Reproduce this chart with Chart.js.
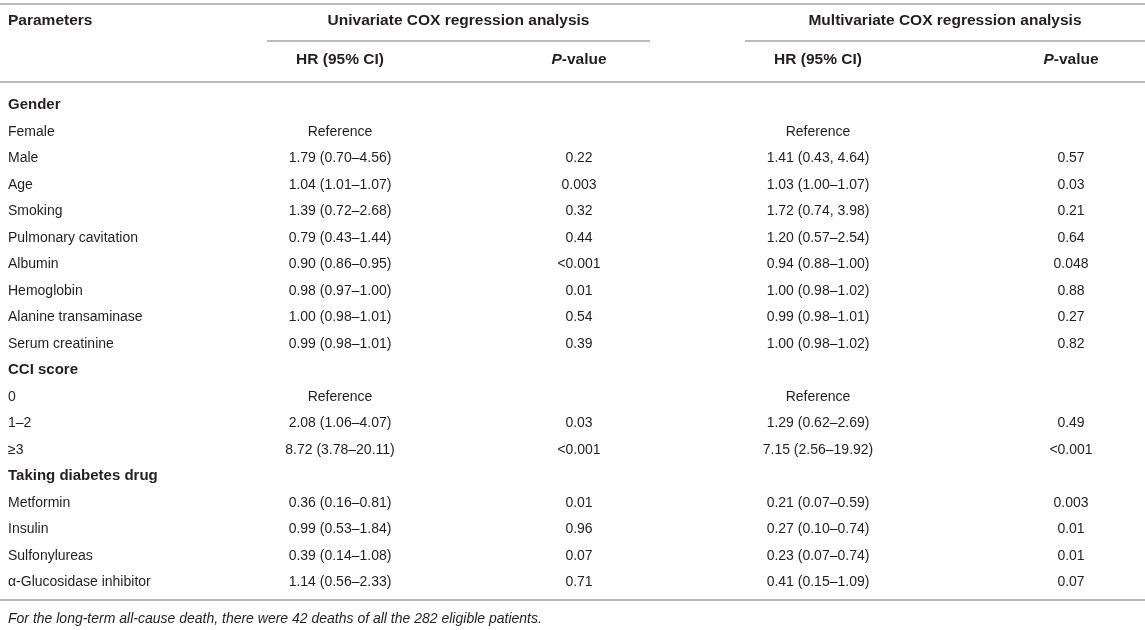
<!DOCTYPE html>
<html>
<head>
<meta charset="utf-8">
<script src="https://cdn.jsdelivr.net/npm/chart.js@4"></script>
<style>
    html, body { margin: 0; background: #fff; }
    #wrap { width: 1145px; height: 630px; }
</style>
</head>
<body>
<div id="wrap"><canvas id="Table1"></canvas></div>
<script>

const rowLabels = ['Gender', 'Female', 'Male', 'Age', 'Smoking', 'Pulmonary cavitation', 'Albumin',
    'Hemoglobin', 'Alanine transaminase', 'Serum creatinine', 'CCI score', '0', '1–2', '≥3',
    'Taking diabetes drug', 'Metformin', 'Insulin', 'Sulfonylureas', 'α-Glucosidase inhibitor'];

const groupRows = ['Gender', 'CCI score', 'Taking diabetes drug'];

const uniHR = ['', 'Reference', '1.79 (0.70–4.56)', '1.04 (1.01–1.07)', '1.39 (0.72–2.68)', '0.79 (0.43–1.44)',
    '0.90 (0.86–0.95)', '0.98 (0.97–1.00)', '1.00 (0.98–1.01)', '0.99 (0.98–1.01)', '', 'Reference',
    '2.08 (1.06–4.07)', '8.72 (3.78–20.11)', '', '0.36 (0.16–0.81)', '0.99 (0.53–1.84)', '0.39 (0.14–1.08)',
    '1.14 (0.56–2.33)'];

const uniP = ['', '', '0.22', '0.003', '0.32', '0.44', '<0.001', '0.01', '0.54', '0.39', '', '',
    '0.03', '<0.001', '', '0.01', '0.96', '0.07', '0.71'];

const multiHR = ['', 'Reference', '1.41 (0.43, 4.64)', '1.03 (1.00–1.07)', '1.72 (0.74, 3.98)', '1.20 (0.57–2.54)',
    '0.94 (0.88–1.00)', '1.00 (0.98–1.02)', '0.99 (0.98–1.01)', '1.00 (0.98–1.02)', '', 'Reference',
    '1.29 (0.62–2.69)', '7.15 (2.56–19.92)', '', '0.21 (0.07–0.59)', '0.27 (0.10–0.74)', '0.23 (0.07–0.74)',
    '0.41 (0.15–1.09)'];

const multiP = ['', '', '0.57', '0.03', '0.21', '0.64', '0.048', '0.88', '0.27', '0.82', '', '',
    '0.49', '<0.001', '', '0.003', '0.01', '0.01', '0.07'];

const groupHeaders = ['Univariate COX regression analysis', 'Multivariate COX regression analysis'];
const colHeaders = ['Parameters', 'HR (95% CI)', 'P-value'];
const footnote = 'For the long-term all-cause death, there were 42 deaths of all the 282 eligible patients.';

const FONT = '"Liberation Sans", Arial, Helvetica, sans-serif';
const HEAD = 'bold 15.5px ' + FONT;
const HEAD_I = 'bold italic 15.5px ' + FONT;
const TEXT = '#231f20';
const RULE = '#a3a3a3';

// column anchors on the x scale (0..1145)
const col = { param: 8, uniHR: 340, uniP: 579, multiHR: 818, multiP: 1071 };
const spans = [[267, 650], [745, 1145]];

function rule(ctx, x1, x2, y) {
    ctx.beginPath();
    ctx.moveTo(x1, y);
    ctx.lineTo(x2, y);
    ctx.stroke();
}

function pValueHeader(ctx, cx, y) {
    ctx.font = HEAD_I;
    const w1 = ctx.measureText('P').width;
    ctx.font = HEAD;
    const w2 = ctx.measureText('-value').width;
    const left = cx - (w1 + w2) / 2;
    ctx.textAlign = 'left';
    ctx.font = HEAD_I;
    ctx.fillText('P', left, y);
    ctx.font = HEAD;
    ctx.fillText('-value', left + w1, y);
}

const tablePlugin = {
    id: 'tableText',
    afterDraw(chart) {
        const { ctx, chartArea } = chart;
        const x = chart.scales.x;
        const y = chart.scales.y;
        const px = v => x.getPixelForValue(v);

        ctx.save();
        ctx.fillStyle = TEXT;
        ctx.textBaseline = 'middle';

        // rules
        ctx.strokeStyle = RULE;
        ctx.lineWidth = 1.5;
        rule(ctx, px(0), px(1145), 4);
        rule(ctx, px(spans[0][0]), px(spans[0][1]), 41);
        rule(ctx, px(spans[1][0]), px(spans[1][1]), 41);
        rule(ctx, px(0), px(1145), 82);
        rule(ctx, px(0), px(1145), chartArea.bottom + 4.5);

        // header
        ctx.font = HEAD;
        ctx.textAlign = 'left';
        ctx.fillText(colHeaders[0], px(col.param), 21);
        ctx.textAlign = 'center';
        ctx.fillText(groupHeaders[0], px((spans[0][0] + spans[0][1]) / 2), 21);
        ctx.fillText(groupHeaders[1], px((spans[1][0] + spans[1][1]) / 2), 21);
        ctx.fillText(colHeaders[1], px(col.uniHR), 60);
        ctx.fillText(colHeaders[1], px(col.multiHR), 60);
        pValueHeader(ctx, px(col.uniP), 60);
        pValueHeader(ctx, px(col.multiP), 60);

        // body
        rowLabels.forEach((label, i) => {
            const py = y.getPixelForValue(i);
            ctx.font = groupRows.includes(label) ? 'bold 15px ' + FONT : '14px ' + FONT;
            ctx.textAlign = 'left';
            ctx.fillText(label, px(col.param), py);
            ctx.font = '14px ' + FONT;
            ctx.textAlign = 'center';
            ctx.fillText(uniHR[i], px(col.uniHR), py);
            ctx.fillText(uniP[i], px(col.uniP), py);
            ctx.fillText(multiHR[i], px(col.multiHR), py);
            ctx.fillText(multiP[i], px(col.multiP), py);
        });

        // footnote
        ctx.font = 'italic 14px ' + FONT;
        ctx.textAlign = 'left';
        ctx.fillText(footnote, px(col.param), chartArea.bottom + 23.5);
        ctx.restore();
    }
};

new Chart(document.getElementById('Table1'), {
    type: 'bar',
    data: {
        labels: rowLabels,
        datasets: []
    },
    options: {
        indexAxis: 'y',
        responsive: true,
        maintainAspectRatio: false,
        animation: false,
        layout: { padding: { top: 92, bottom: 34.5, left: 0, right: 0 } },
        plugins: { legend: { display: false }, tooltip: { enabled: false } },
        scales: {
            x: { type: 'linear', min: 0, max: 1145, display: false },
            y: { type: 'category', display: false, offset: true }
        }
    },
    plugins: [tablePlugin]
});

</script>
</body>
</html>
